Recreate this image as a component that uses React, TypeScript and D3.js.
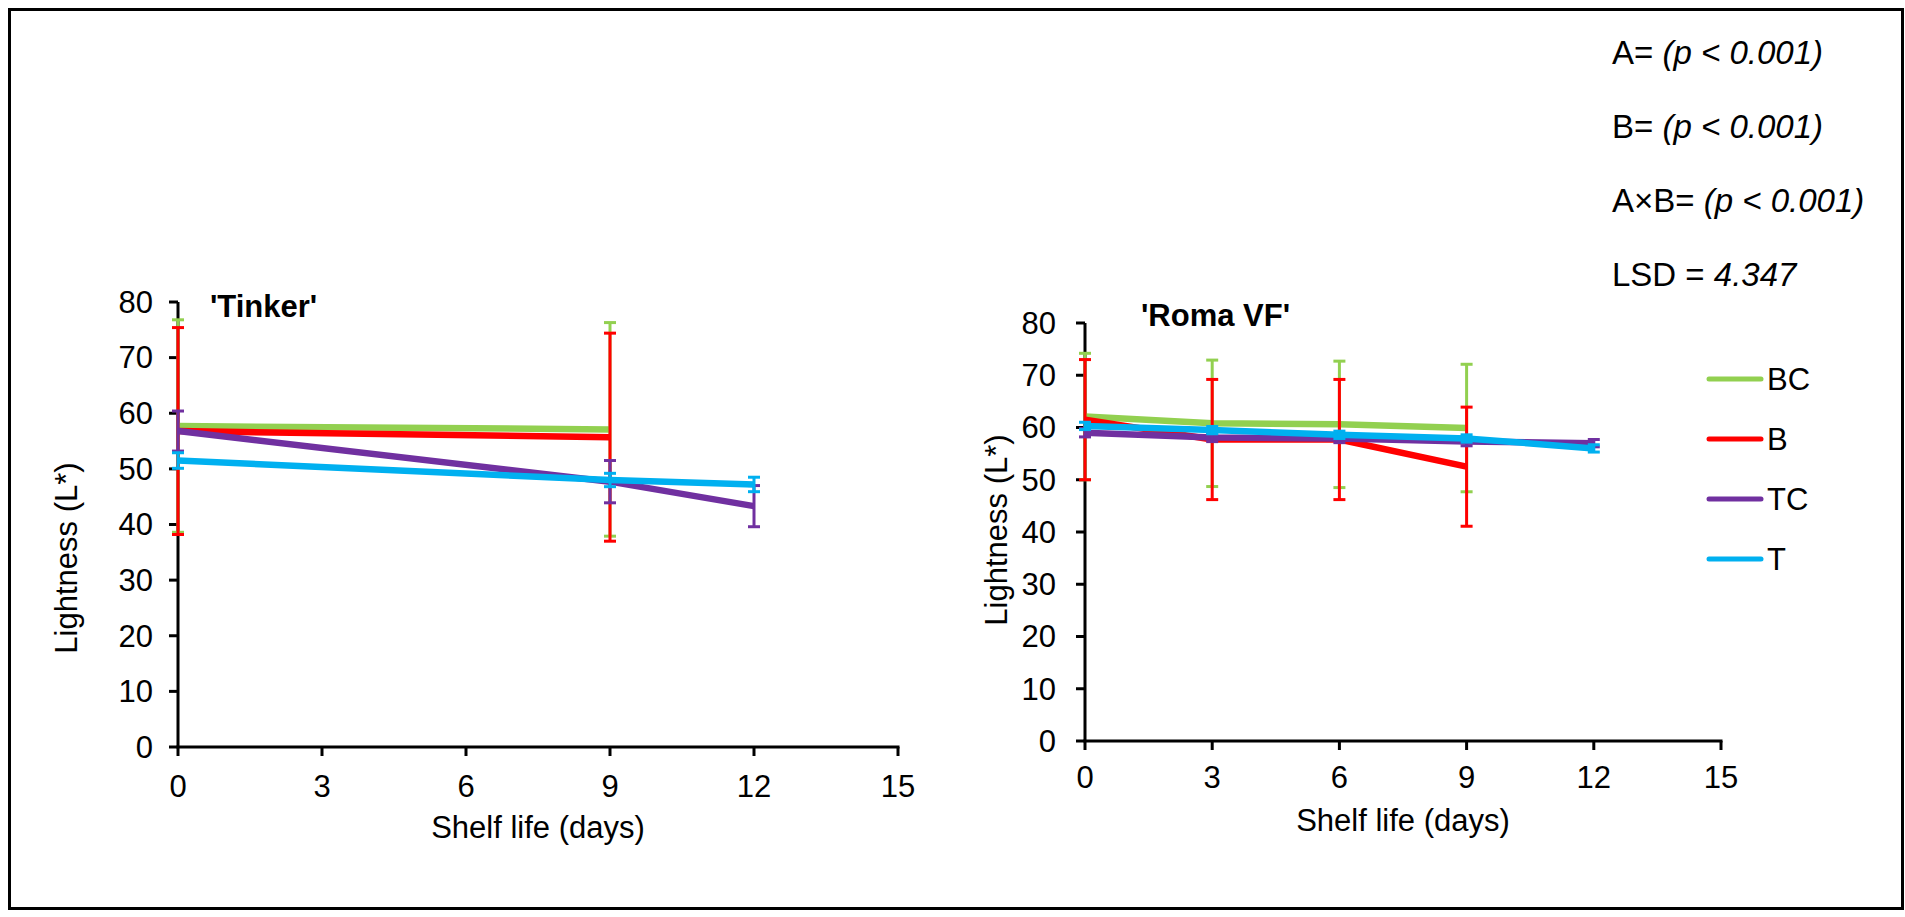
import React from 'react';
import * as d3 from 'd3';

// x ticks (days) and y ticks (L*)
const dayTicks = [0, 3, 6, 9, 12, 15];
const lTicks = [0, 10, 20, 30, 40, 50, 60, 70, 80];

const seriesNames = ['BC', 'B', 'TC', 'T'];
const seriesColors = ['#92D050', '#FF0000', '#7030A0', '#00B0F0'];

// 'Tinker'
const tinkerDaysBC = [0, 9];
const tinkerBC = [57.7, 57.1];
const tinkerBCErr = [19.1, 19.2];
const tinkerDaysB = [0, 9];
const tinkerB = [56.8, 55.7];
const tinkerBErr = [18.6, 18.7];
const tinkerDaysTC = [0, 9, 12];
const tinkerTC = [56.8, 47.7, 43.3];
const tinkerTCErr = [3.6, 3.8, 3.7];
const tinkerDaysT = [0, 9, 12];
const tinkerT = [51.5, 48.0, 47.2];
const tinkerTErr = [1.4, 1.2, 1.3];

// 'Roma VF'
const romaDaysBC = [0, 3, 6, 9];
const romaBC = [62.1, 60.8, 60.6, 59.9];
const romaBCErr = [12.1, 12.1, 12.1, 12.2];
const romaDaysB = [0, 3, 6, 9];
const romaB = [61.5, 57.7, 57.7, 52.5];
const romaBErr = [11.5, 11.5, 11.5, 11.4];
const romaDaysTC = [0, 3, 6, 9, 12];
const romaTC = [59.0, 58.1, 57.9, 57.3, 57.0];
const romaTCErr = [0.8, 0.8, 0.8, 0.8, 0.7];
const romaDaysT = [0, 3, 6, 9, 12];
const romaT = [60.3, 59.5, 58.6, 57.9, 56.0];
const romaTErr = [0.7, 0.7, 0.7, 0.7, 0.7];

const font = '"Liberation Sans", Arial, sans-serif';

type Series = { days: number[]; mean: number[]; err: number[] };

const tinkerSeries: Series[] = [
  { days: tinkerDaysBC, mean: tinkerBC, err: tinkerBCErr },
  { days: tinkerDaysB, mean: tinkerB, err: tinkerBErr },
  { days: tinkerDaysTC, mean: tinkerTC, err: tinkerTCErr },
  { days: tinkerDaysT, mean: tinkerT, err: tinkerTErr },
];
const romaSeries: Series[] = [
  { days: romaDaysBC, mean: romaBC, err: romaBCErr },
  { days: romaDaysB, mean: romaB, err: romaBErr },
  { days: romaDaysTC, mean: romaTC, err: romaTCErr },
  { days: romaDaysT, mean: romaT, err: romaTErr },
];

function Panel(props: {
  title: string;
  titlePos: [number, number];
  xr: [number, number];
  yr: [number, number];
  series: Series[];
  yTickGap: number;
  xTickBase: number;
  xLabelBase: number;
  yLabelPos: [number, number];
}) {
  const { title, titlePos, xr, yr, series, yTickGap, xTickBase, xLabelBase, yLabelPos } = props;
  const x = d3.scaleLinear().domain([0, 15]).range(xr);
  const y = d3.scaleLinear().domain([0, 80]).range(yr);
  const line = d3.line<[number, number]>()
    .x(d => x(d[0]))
    .y(d => y(d[1]));

  return (
    <g>
      {/* axes */}
      <line x1={x(0)} x2={x(0)} y1={y(80)} y2={y(0)} stroke="#000" strokeWidth={3} />
      <line x1={x(0) - 1.5} x2={x(15) + 1.5} y1={y(0)} y2={y(0)} stroke="#000" strokeWidth={3} />
      {lTicks.map(t => (
        <g key={'y' + t}>
          <line x1={x(0) - 9} x2={x(0)} y1={y(t)} y2={y(t)} stroke="#000" strokeWidth={3} />
          <text x={x(0) - yTickGap} y={y(t)} dy="0.35em" textAnchor="end" fontSize={31}>{t}</text>
        </g>
      ))}
      {dayTicks.map(t => (
        <g key={'x' + t}>
          <line x1={x(t)} x2={x(t)} y1={y(0)} y2={y(0) + 9} stroke="#000" strokeWidth={3} />
          <text x={x(t)} y={xTickBase} textAnchor="middle" fontSize={31}>{t}</text>
        </g>
      ))}
      <text x={(xr[0] + xr[1]) / 2} y={xLabelBase} textAnchor="middle" fontSize={31}>Shelf life (days)</text>
      <text transform={`translate(${yLabelPos[0]},${yLabelPos[1]}) rotate(-90)`} textAnchor="middle" fontSize={31}>Lightness (L*)</text>
      <text x={titlePos[0]} y={titlePos[1]} fontSize={31} fontWeight="bold">{title}</text>

      {/* series with error bars */}
      {series.map((s, i) => {
        const pts = s.days.map((d, j) => [d, s.mean[j]] as [number, number]);
        return (
          <g key={seriesNames[i]} stroke={seriesColors[i]} fill="none">
            <path d={line(pts) || ''} strokeWidth={6.5} strokeLinejoin="round" />
            {s.days.map((d, j) => {
              const cx = x(d);
              const hi = y(s.mean[j] + s.err[j]);
              const lo = y(s.mean[j] - s.err[j]);
              return (
                <g key={j} strokeWidth={3}>
                  <line x1={cx} x2={cx} y1={hi} y2={lo} />
                  <line x1={cx - 6} x2={cx + 6} y1={hi} y2={hi} />
                  <line x1={cx - 6} x2={cx + 6} y1={lo} y2={lo} />
                </g>
              );
            })}
          </g>
        );
      })}
    </g>
  );
}

const statLines: [string, string][] = [
  ['A= ', '(p < 0.001)'],
  ['B= ', '(p < 0.001)'],
  ['A\u00d7B= ', '(p < 0.001)'],
  ['LSD = ', '4.347'],
];

export default function App() {
  return (
    <svg
      width={1905}
      height={917}
      style={{ position: 'absolute', left: 0, top: 0, background: '#fff' }}
      fontFamily={font}
    >
      <rect x={9.5} y={9.5} width={1893} height={899} fill="#fff" stroke="#000" strokeWidth={3} />

      <Panel
        title="'Tinker'"
        titlePos={[210, 317]}
        xr={[178, 898]}
        yr={[747, 302]}
        series={tinkerSeries}
        yTickGap={25}
        xTickBase={797}
        xLabelBase={838}
        yLabelPos={[77, 558]}
      />
      <Panel
        title="'Roma VF'"
        titlePos={[1141, 326]}
        xr={[1085, 1721]}
        yr={[741, 323]}
        series={romaSeries}
        yTickGap={29}
        xTickBase={788}
        xLabelBase={831}
        yLabelPos={[1007, 530]}
      />

      {/* statistics */}
      {statLines.map((s, i) => (
        <text key={i} x={1612} y={64 + i * 74} fontSize={33}>
          {s[0]}
          <tspan fontStyle="italic">{s[1]}</tspan>
        </text>
      ))}

      {/* legend */}
      {seriesNames.map((n, i) => {
        const ly = 379 + i * 60;
        return (
          <g key={n}>
            <line x1={1709} x2={1761} y1={ly} y2={ly} stroke={seriesColors[i]} strokeWidth={5} strokeLinecap="round" />
            <text x={1767} y={ly} dy="0.36em" fontSize={31}>{n}</text>
          </g>
        );
      })}
    </svg>
  );
}
